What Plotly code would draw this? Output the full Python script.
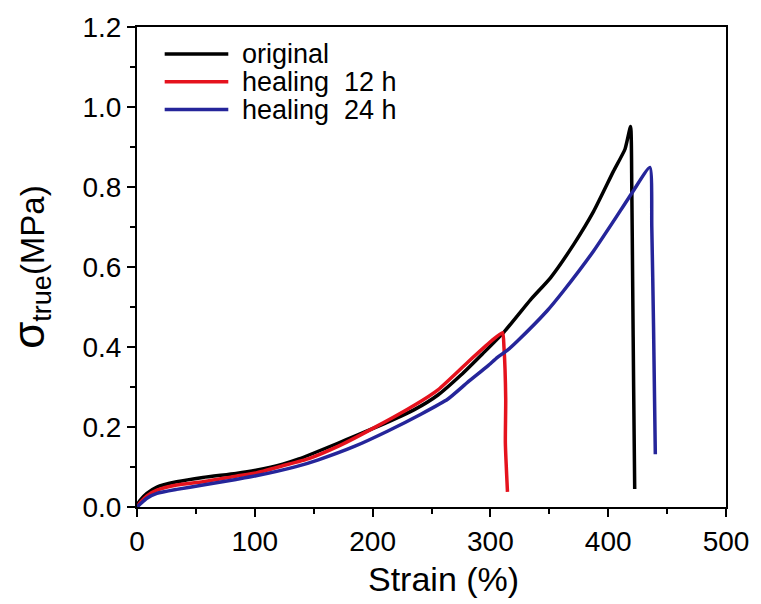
import plotly.graph_objects as go

# ---- data ----
orig_x = [0, 3, 8.4, 16.9, 33.7, 56, 84, 101, 123.7, 137.4, 171, 205, 235.8, 255.5,
          275, 293, 311.7, 334, 351, 370.6, 387.6, 404.4, 414.3, 419, 420, 420.8, 421.6, 422.5]
orig_y = [0.005, 0.018, 0.034, 0.050, 0.063, 0.074, 0.084, 0.092, 0.107, 0.120, 0.160, 0.202, 0.244, 0.280,
          0.330, 0.382, 0.438, 0.518, 0.573, 0.656, 0.739, 0.839, 0.895, 0.951, 0.806, 0.55, 0.30, 0.045]

h12_x = [0, 3, 8.4, 16.9, 33.7, 56, 84, 101, 123.7, 145.9, 171, 205, 235.8, 255.5,
         280.8, 300.4, 310.3, 311.5, 313, 312.7, 314.5]
h12_y = [0.0, 0.012, 0.028, 0.042, 0.055, 0.063, 0.077, 0.085, 0.103, 0.121, 0.152, 0.204, 0.255, 0.293,
         0.362, 0.414, 0.436, 0.400, 0.270, 0.160, 0.038]

h24_x = [0, 3, 8.4, 16.9, 33.7, 56, 84, 101, 135, 154, 185, 213, 241, 264, 280.8, 297.6,
         306, 314.5, 323, 348, 362, 387.6, 404.4, 421, 435.4, 437, 438.5, 440]
h24_y = [0.0, 0.008, 0.022, 0.034, 0.044, 0.055, 0.069, 0.078, 0.101, 0.118, 0.152, 0.190, 0.232, 0.270, 0.312, 0.352,
         0.374, 0.392, 0.415, 0.490, 0.540, 0.640, 0.714, 0.789, 0.849, 0.70, 0.45, 0.132]

series_names = ["original", "healing  12 h", "healing  24 h"]
series_colors = ["#000000", "#e5121d", "#25259a"]

x_ticks = [0, 100, 200, 300, 400, 500]
y_ticks = [0.0, 0.2, 0.4, 0.6, 0.8, 1.0, 1.2]

FONT = "Liberation Sans, Arial, sans-serif"

fig = go.Figure()
for xs, ys, name, col in zip([orig_x, h12_x, h24_x], [orig_y, h12_y, h24_y], series_names, series_colors):
    fig.add_trace(go.Scatter(x=xs, y=ys, mode="lines", name=name,
                             line=dict(color=col, width=3.5, shape="spline", smoothing=0.5),
                             showlegend=False))

# manual legend (lines + text)
leg_y = [0.944, 0.886, 0.828]
for ly, name, col in zip(leg_y, series_names, series_colors):
    fig.add_shape(type="line", xref="paper", yref="paper", x0=0.047, x1=0.155, y0=ly, y1=ly,
                  line=dict(color=col, width=3.5))
    fig.add_annotation(xref="paper", yref="paper", x=0.175, y=ly, text=name, showarrow=False,
                       xanchor="left", yanchor="middle", font=dict(family=FONT, size=27, color="black"))

axis_common = dict(showline=True, linecolor="black", linewidth=2, mirror=True,
                   showgrid=False, zeroline=False, ticks="outside", ticklen=8, tickwidth=2,
                   tickcolor="black", tickfont=dict(family=FONT, size=28, color="black"))

fig.update_xaxes(range=[0, 500], tickvals=x_ticks, ticktext=[str(v) for v in x_ticks],
                 minor=dict(ticks="outside", ticklen=5, tickwidth=2, tickcolor="black", dtick=50),
                 **axis_common)
fig.update_yaxes(range=[0, 1.2], tickvals=y_ticks, ticktext=[f"{v:.1f}" for v in y_ticks],
                 minor=dict(ticks="outside", ticklen=5, tickwidth=2, tickcolor="black", dtick=0.1),
                 **axis_common)

fig.add_annotation(xref="paper", yref="paper", x=0.521, y=-0.15, text="Strain (%)", showarrow=False,
                   xanchor="center", yanchor="middle", font=dict(family=FONT, size=34, color="black"))
fig.add_annotation(xref="paper", yref="paper", x=-0.182, y=0.50,
                   text="<span style='font-size:44px'>σ</span><sub><span style='font-size:27px'>true</span></sub>(MPa)",
                   showarrow=False, textangle=-90,
                   xanchor="center", yanchor="middle", font=dict(family=FONT, size=33, color="black"))

fig.update_layout(width=761, height=604, margin=dict(l=137, r=31, t=25, b=97),
                  plot_bgcolor="white", paper_bgcolor="white", showlegend=False)

fig.write_html("out.html")
